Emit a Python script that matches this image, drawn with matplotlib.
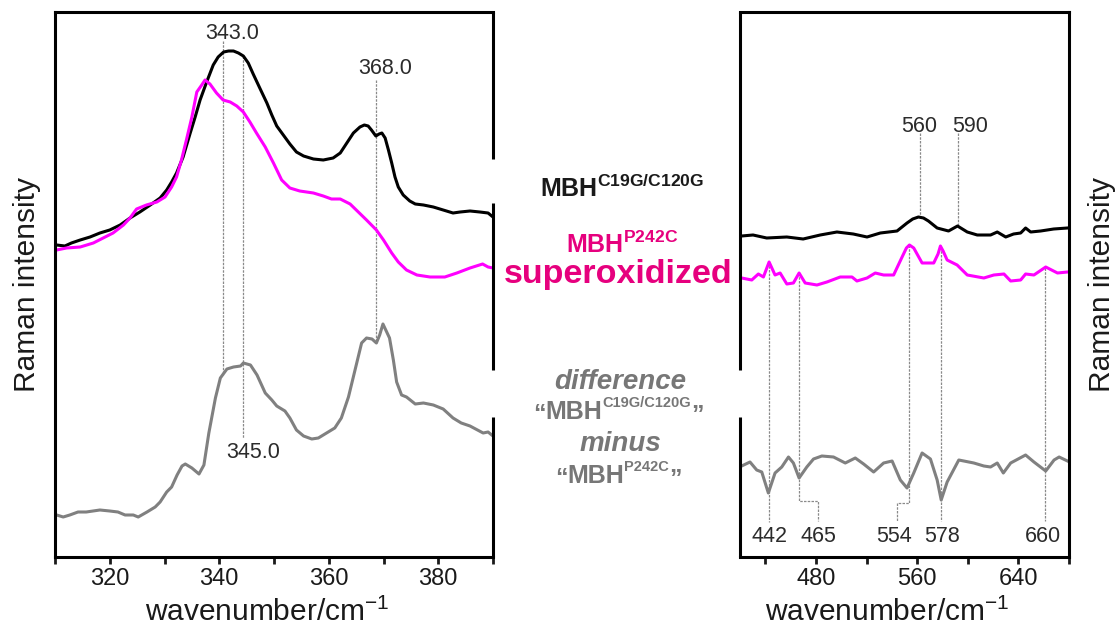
import numpy as np
import matplotlib
matplotlib.use("Agg")
import matplotlib.pyplot as plt

plt.rcParams['font.family'] = ['Liberation Sans', 'DejaVu Sans']
plt.rcParams['mathtext.fontset'] = 'custom'
plt.rcParams['mathtext.rm'] = 'Liberation Sans'
plt.rcParams['mathtext.bf'] = 'Liberation Sans:bold'
plt.rcParams['mathtext.it'] = 'Liberation Sans:italic'

# ---- left panel (310-390 cm-1), intensities in arbitrary units
wn_black_l = [310.3, 311.8, 313.0, 314.6, 316.4, 318.2, 320.0, 321.9, 323.7, 325.5, 327.4,
              329.2, 330.4, 331.3, 332.2, 333.4, 334.7, 335.6, 336.5, 337.7, 338.9, 339.8,
              340.8, 341.7, 342.6, 343.5, 344.4, 345.3, 346.2, 347.4, 348.7, 349.6, 350.5,
              351.7, 352.9, 354.1, 355.4, 357.2, 359.0, 360.8, 362.1, 363.3, 364.5, 365.7,
              366.5, 367.2, 367.8, 368.6, 369.2, 369.7, 370.3, 370.9, 371.5, 372.1, 372.7,
              373.6, 374.8, 375.8, 377.3, 379.1, 380.9, 382.7, 384.0, 385.8, 387.6, 389.1,
              390.0]
black_l = [312, 311, 314, 317, 320, 324, 327, 332, 339, 345, 352, 359, 367, 375, 384, 400,
           424, 440, 457, 475, 492, 500, 505, 506, 506, 504, 501, 494, 483, 469, 454, 442,
           431, 422, 413, 405, 401, 398, 397, 399, 404, 414, 424, 430, 432, 431, 427, 421,
           423, 424, 419, 407, 394, 380, 370, 362, 356, 353, 352, 350, 347, 344, 345, 346,
           345, 344, 340]

wn_mag_l = [310.3, 312.1, 314.6, 317.0, 318.8, 320.6, 322.5, 323.7, 324.9, 326.7, 328.6,
            330.1, 331.3, 332.2, 333.1, 334.0, 335.0, 335.9, 336.8, 337.4, 338.3, 339.5,
            340.7, 342.0, 343.2, 344.4, 345.6, 346.8, 348.4, 349.9, 351.4, 352.9, 354.7,
            357.2, 359.0, 360.5, 362.1, 363.9, 365.4, 366.9, 368.7, 370.0, 371.5, 372.7,
            374.2, 376.1, 378.5, 381.2, 383.4, 385.8, 388.1, 389.1, 390.0]
mag_l = [307, 309, 310, 314, 319, 324, 332, 339, 348, 352, 355, 360, 370, 380, 397, 417,
         440, 465, 472, 477, 473, 464, 457, 455, 451, 445, 435, 424, 410, 394, 377, 369,
         366, 364, 361, 358, 358, 353, 345, 337, 327, 317, 304, 295, 287, 282, 280, 280,
         284, 289, 293, 290, 289]

wn_gray_l = [310.3, 311.5, 312.7, 314.2, 315.7, 318.2, 320.0, 321.5, 322.8, 324.3, 325.2,
             326.8, 328.3, 329.2, 330.4, 331.3, 332.3, 333.2, 333.8, 335.0, 336.3, 337.2,
             338.1, 339.3, 340.2, 341.4, 342.6, 343.9, 344.4, 345.7, 346.9, 348.4, 349.6,
             350.5, 352.0, 352.9, 354.1, 355.4, 356.9, 358.1, 359.9, 361.1, 362.3, 363.6,
             364.8, 366.0, 366.9, 367.9, 368.7, 369.3, 369.9, 371.1, 371.8, 372.4, 373.3,
             374.2, 375.8, 377.3, 379.1, 380.9, 382.7, 384.2, 385.8, 388.2, 389.1, 390.0]
gray_l = [42, 40, 42, 45, 45, 47, 46, 45, 42, 42, 40, 45, 50, 55, 65, 70, 82, 91, 93, 89,
          83, 92, 124, 159, 179, 188, 190, 191, 194, 192, 182, 164, 157, 151, 146, 139, 127,
          121, 118, 119, 125, 129, 139, 160, 187, 214, 219, 218, 214, 222, 233, 219, 197,
          175, 162, 160, 153, 154, 152, 148, 139, 134, 131, 124, 125, 121]

# ---- right panel (420-680 cm-1)
wn_black_r = [421.3, 430.3, 441.1, 457.0, 469.9, 483.4, 496.6, 509.5, 520.4, 530.9, 544.1,
              552.0, 556.5, 561.0, 565.0, 568.9, 575.8, 584.8, 591.9, 599.6, 607.5, 618.0,
              623.3, 630.0, 636.2, 641.8, 645.7, 649.7, 657.6, 667.9, 678.8]
black_r = [321, 322, 319, 320, 318, 322, 325, 323, 320, 324, 326, 334, 338, 340, 339, 336,
           329, 326, 331, 325, 322, 322, 325, 320, 323, 324, 329, 325, 326, 328, 329]

wn_mag_r = [421.3, 429.3, 434.5, 438.5, 443.0, 447.7, 451.7, 457.0, 462.2, 466.7, 471.5,
            480.8, 488.7, 499.2, 508.5, 512.4, 520.4, 526.9, 533.5, 541.4, 548.1, 551.5,
            553.9, 557.3, 563.9, 573.1, 576.5, 578.4, 580.5, 583.7, 591.6, 599.6, 612.7,
            620.6, 628.6, 633.9, 641.8, 645.7, 652.3, 661.6, 670.9, 678.8]
mag_r = [279, 277, 283, 280, 295, 282, 284, 273, 274, 284, 274, 272, 275, 280, 280, 276,
         279, 284, 282, 282, 300, 309, 312, 309, 294, 294, 303, 311, 306, 297, 292, 282,
         279, 282, 283, 276, 277, 283, 282, 290, 284, 285]

wn_gray_r = [421.3, 427.9, 433.2, 437.2, 442.4, 447.7, 453.0, 458.3, 462.2, 466.7, 472.8,
             478.1, 484.7, 493.9, 503.2, 511.1, 517.7, 525.6, 533.5, 540.2, 546.7, 552.0,
             557.3, 563.9, 570.5, 575.8, 579.0, 583.7, 592.9, 604.8, 612.7, 618.0, 623.3,
             628.1, 633.9, 645.7, 652.3, 661.6, 668.2, 672.2, 678.8]
gray_r = [91, 95, 87, 85, 64, 84, 90, 100, 94, 79, 90, 98, 101, 100, 94, 99, 93, 85, 94, 96,
          77, 69, 84, 104, 98, 77, 57, 75, 97, 94, 91, 90, 94, 84, 94, 102, 95, 86, 97, 100, 96]

left_ticks = [320, 340, 360, 380]
right_ticks = [480, 560, 640]

# peak markers: label, label x, label baseline y, leader line
left_marks = [
    ("343.0", 342.3, 518, [(340.6, 516), (340.6, 'gray')]),
    ("368.0", 370.3, 483, [(368.7, 477), (368.7, 'gray')]),
    ("345.0", 346.2, 99, [(344.3, 'black'), (344.3, 119)]),
]
right_marks = [
    ("560", 561.8, 425, [(562.6, 424), (562.6, 'black')]),
    ("590", 601.6, 425, [(592.0, 424), (592.0, 'black')]),
    ("442", 443.2, 15, [(443.0, 'mag'), (443.0, 35)]),
    ("465", 482.0, 15, [(466.7, 'mag'), (466.7, 56), (481.5, 56), (481.5, 36)]),
    ("554", 542.0, 15, [(553.9, 'mag'), (553.9, 54), (544.0, 54), (544.0, 36)]),
    ("578", 579.8, 15, [(579.0, 'mag'), (579.0, 36)]),
    ("660", 659.2, 15, [(661.0, 'mag'), (661.0, 36)]),
]

C_BLACK = '#000000'
C_MAG = '#ff00ff'
C_GRAY = '#808080'
C_PINK = '#e6007e'
C_GTXT = '#777777'

W, H = 1116, 627
fig = plt.figure(figsize=(W / 100, H / 100), dpi=100)
ax1 = fig.add_axes([55 / W, 1 - 557 / H, 438 / W, 545 / H])
ax2 = fig.add_axes([740 / W, 1 - 557 / H, 329 / W, 545 / H])


def draw_panel(ax, curves, marks):
    for wn, y, c, lw in curves.values():
        ax.plot(wn, y, color=c, lw=lw, solid_joinstyle='round')
    for label, lx, ly, path in marks:
        xs, ys = [], []
        for px, py in path:
            if isinstance(py, str):
                wn, y = curves[py][0], curves[py][1]
                py = np.interp(px, wn, y)
            xs.append(px)
            ys.append(py)
        ax.plot(xs, ys, color='#8a8a8a', lw=0.9, ls=(0, (2, 1)), zorder=0)
        ax.text(lx, ly, label, ha='center', va='baseline', fontsize=15.5, color='#2b2b2b')
    ax.set_ylim(0, 545)
    ax.set_yticks([])
    ax.tick_params(axis='x', which='both', direction='out', width=2, length=5,
                   labelsize=17, pad=3, colors='#1a1a1a')
    for s in ax.spines.values():
        s.set_linewidth(2.2)
    ax.set_xlabel('wavenumber/cm$^{-1}$', fontsize=21.5, color='#1a1a1a')
    ax.set_ylabel('Raman intensity', fontsize=21.5, color='#1a1a1a')


def broken_spine(ax, x, pieces):
    ax.spines['right' if x == 1 else 'left'].set_visible(False)
    for y0, y1 in pieces:
        ax.plot([x, x], [y0, y1], transform=ax.transAxes, color='black', lw=2.2,
                solid_capstyle='butt', clip_on=False)


draw_panel(ax1, {'black': (wn_black_l, black_l, C_BLACK, 2.2),
                 'mag': (wn_mag_l, mag_l, C_MAG, 2.2),
                 'gray': (wn_gray_l, gray_l, C_GRAY, 2.2)}, left_marks)
ax1.set_xlim(310, 390)
ax1.set_xticks(left_ticks)
ax1.set_xticks(np.arange(310, 391, 10), minor=True)
ax1.yaxis.labelpad = 10
ax1.xaxis.set_label_coords(0.484, -0.075)
broken_spine(ax1, 1, [(1.0, 0.730), (0.650, 0.343), (0.257, 0.0)])

draw_panel(ax2, {'black': (wn_black_r, black_r, C_BLACK, 2.2),
                 'mag': (wn_mag_r, mag_r, C_MAG, 2.2),
                 'gray': (wn_gray_r, gray_r, C_GRAY, 2.2)}, right_marks)
ax2.set_xlim(420, 680)
ax2.set_xticks(right_ticks)
ax2.set_xticks(np.arange(440, 681, 80), minor=True)
ax2.yaxis.set_label_position('right')
ax2.yaxis.labelpad = 14
ax2.xaxis.set_label_coords(0.448, -0.075)
broken_spine(ax2, 0, [(1.0, 0.343), (0.257, 0.0)])


# sample labels between the panels
def ftext(px, py, s, **kw):
    fig.text(px / W, 1 - py / H, s, ha='center', va='baseline', **kw)


def rich(cx, py, parts, color):
    # parts: (text, size, raise in px) laid out left to right, centred on cx
    renderer = fig.canvas.get_renderer()
    placed, x = [], 0.0
    for s, size, dy in parts:
        t = fig.text(0, 0, s, fontsize=size, fontweight='bold', color=color,
                     ha='left', va='baseline')
        placed.append((t, x, dy))
        x += t.get_window_extent(renderer).width
    for t, off, dy in placed:
        t.set_position(((cx - x / 2 + off) / W, (H - py + dy) / H))


ftext(622, 197, r'$\mathbf{MBH}^{\mathbf{C19G/C120G}}$', fontsize=18, color='#1a1a1a')
ftext(622, 253, r'$\mathbf{MBH}^{\mathbf{P242C}}$', fontsize=18, color=C_PINK)
ftext(618, 283, 'superoxidized', fontsize=24.5, fontweight='bold', color=C_PINK)
ftext(620, 389, 'difference', fontsize=20, fontweight='bold', style='italic', color=C_GTXT)
rich(618, 419, [('“', 18, -3), ('MBH', 18, 0), ('C19G/C120G', 10.5, 12), ('”', 18, -4)],
     C_GTXT)
ftext(620, 451, 'minus', fontsize=20, fontweight='bold', style='italic', color=C_GTXT)
rich(618, 483, [('“', 18, -3), ('MBH', 18, 0), ('P242C', 10.5, 12), ('”', 18, -4)],
     C_GTXT)

fig.savefig('out.png', dpi=100)
